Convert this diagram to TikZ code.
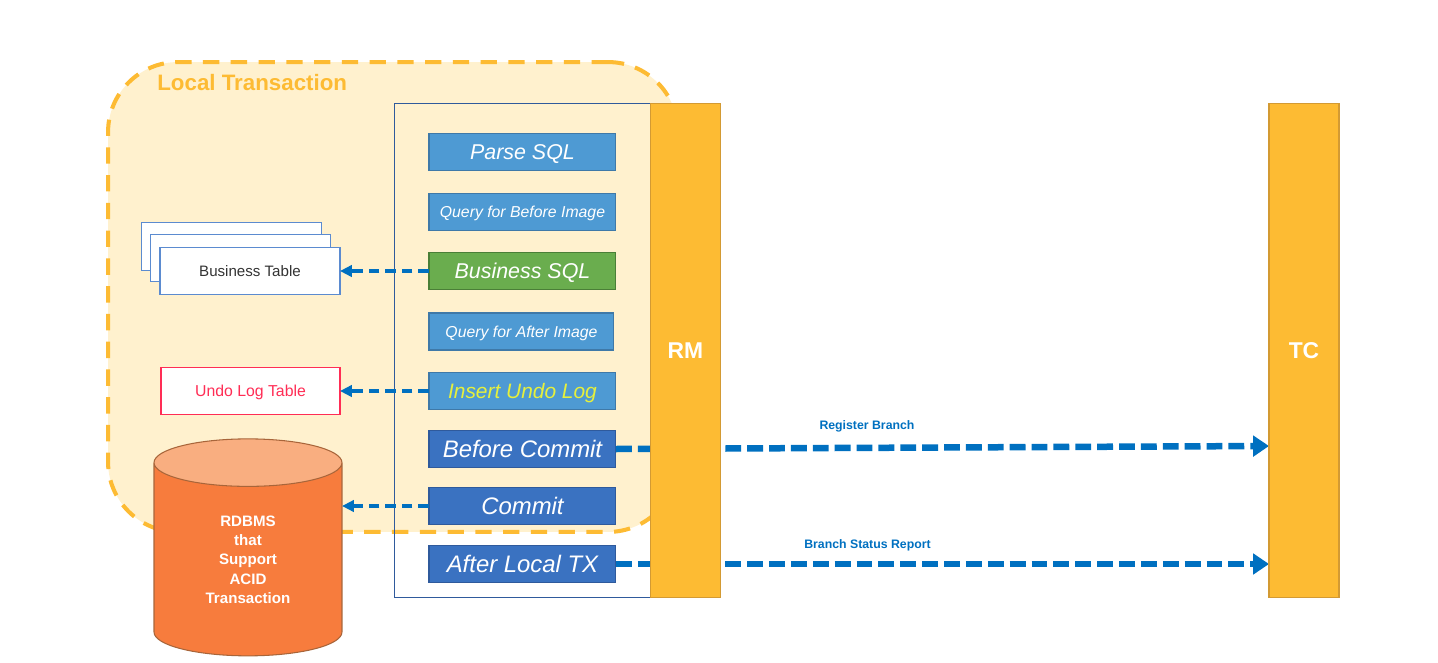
\documentclass[tikz,border=0pt]{standalone}
\usepackage{fontspec}
\setmainfont{Liberation Sans}
\usetikzlibrary{arrows.meta,shapes.geometric}
\definecolor{barfill}{HTML}{FDBB33}
\definecolor{barline}{HTML}{D39A33}
\definecolor{txfill}{HTML}{FFF1CE}
\definecolor{flowblue}{HTML}{0070C0}
\definecolor{lightfill}{HTML}{4E9AD3}
\definecolor{lightline}{HTML}{3F79A8}
\definecolor{darkfill}{HTML}{3A72C1}
\definecolor{darkline}{HTML}{2F5A9C}
\definecolor{greenfill}{HTML}{6AAD4E}
\definecolor{greenline}{HTML}{4A7F37}
\definecolor{tableline}{HTML}{5B8BD0}
\definecolor{undored}{HTML}{FF2D55}
\definecolor{dbfill}{HTML}{F77C3D}
\definecolor{dbtop}{HTML}{F9AE80}
\definecolor{dbline}{HTML}{A8653A}
\tikzset{
    box/.style={draw,inner sep=0,outer sep=0,line width=.6pt},
    sized/.style={font=\fontsize{#1}{#1}\selectfont,text height=.82*#1pt,text depth=.1*#1pt},
    slanted/.style={sized=#1,font=\fontsize{#1}{#1}\selectfont\itshape},
    heavy/.style={sized=#1,font=\fontsize{#1}{#1}\selectfont\bfseries},
    stepbox/.style={box,anchor=west,minimum width=3.74cm,minimum height=.74cm,text=white},
    lightbig/.style={stepbox,slanted=12.2,fill=lightfill,draw=lightline},
    lightsmall/.style={stepbox,slanted=9,fill=lightfill,draw=lightline},
    lightshort/.style={lightsmall,minimum width=3.7cm},
    lightyellow/.style={stepbox,slanted=11.9,fill=lightfill,draw=lightline,text={rgb,255:red,230;green,240;blue,60}},
    darkbig/.style={stepbox,slanted=13.6,fill=darkfill,draw=darkline},
    greenbig/.style={lightbig,fill=greenfill,draw=greenline},
    bar/.style={box,fill=barfill,draw=barline,minimum width=1.4cm,minimum height=9.9cm,
        text=white,heavy=13},
    tablebox/.style={box,fill=white,draw=tableline,minimum width=3.6cm,minimum height=.95cm,
        sized=8.6,text=black!80},
    shortflow/.style={draw=flowblue,line width=2.1pt,dash pattern=on 6.2pt off 3.2pt,
        -{Triangle[length=6.8pt,width=6.5pt]}},
    longflow/.style={draw=flowblue,line width=3.7pt,dash pattern=on 9pt off 3.45pt,
        -{Triangle[length=9pt,width=11.5pt]}},
    flowlabel/.style={text=flowblue,font=\fontsize{7}{9}\selectfont\bfseries}
}
\begin{document}
\begin{tikzpicture}[x=.02cm,y=-.02cm]
\useasboundingbox (0,0) rectangle (1438,663);
%local transaction
\node[draw=barfill,fill=txfill,line width=2.3pt,rounded corners=1.4cm,dash pattern=on 9.3pt off 6.5pt,
    minimum width=11.4cm,minimum height=9.4cm,inner sep=0] (localtx) at (393,297) {};
\node[anchor=west,inner sep=0,text=barfill,heavy=12.7] (localtxlabel) at (157,82) {Local Transaction};
\node[box,draw=darkline,minimum width=5.14cm,minimum height=9.9cm] (resource) at (522.5,350.5) {};
%steps
\foreach \n/\t/\y/\s in {
    parse/Parse SQL/152/lightbig,
    before/Query for Before Image/212/lightsmall,
    bizsql/Business SQL/271/greenbig,
    after/Query for After Image/331.5/lightshort,
    undosql/Insert Undo Log/391/lightyellow,
    precommit/Before Commit/449/darkbig,
    commit/Commit/506/darkbig,
    afterlocal/After Local TX/564/darkbig}{
    \node[\s] (\n) at (429,\y) {\t};
}
%tables
\node[tablebox] (bizback) at (231.5,246.5) {};
\node[tablebox] (bizmid) at (240.5,258) {};
\node[tablebox] (bizfront) at (250,271) {Business Table};
\node[box,fill=white,draw=undored,text=undored,minimum width=3.58cm,minimum height=.94cm,
    sized=9] (undotable) at (250.5,391) {Undo Log Table};
\node[cylinder,shape border rotate=90,aspect=.56,draw=dbline,line width=.6pt,inner sep=0,outer sep=0,
    cylinder uses custom fill,cylinder body fill=dbfill,cylinder end fill=dbtop,
    minimum width=3.76cm,minimum height=4.34cm,align=center,text=white,
    font=\fontsize{8.6}{11}\selectfont\bfseries] (rdbms) at (248,559.5)
    {RDBMS\\that\\Support\\ACID\\Transaction};
%flows
\draw[shortflow] (bizsql.west) -- (bizfront.east);
\draw[shortflow] (undosql.west) -- (undotable.east);
\draw[shortflow] (commit.west) -- (commit.west -| rdbms.east);
\coordinate (registerend) at (1269,446);
\coordinate (statusend) at (1269,564);
\draw[longflow] (precommit.east) -- (registerend);
\draw[longflow] (afterlocal.east) -- (statusend);
\node[flowlabel] (registerlabel) at (867,426) {Register Branch};
\node[flowlabel] (statuslabel) at (867.5,545) {Branch Status Report};
%bars
\node[bar] (rm) at (685.5,350.5) {RM};
\node[bar] (tc) at (1304,350.5) {TC};
\end{tikzpicture}
\end{document}
